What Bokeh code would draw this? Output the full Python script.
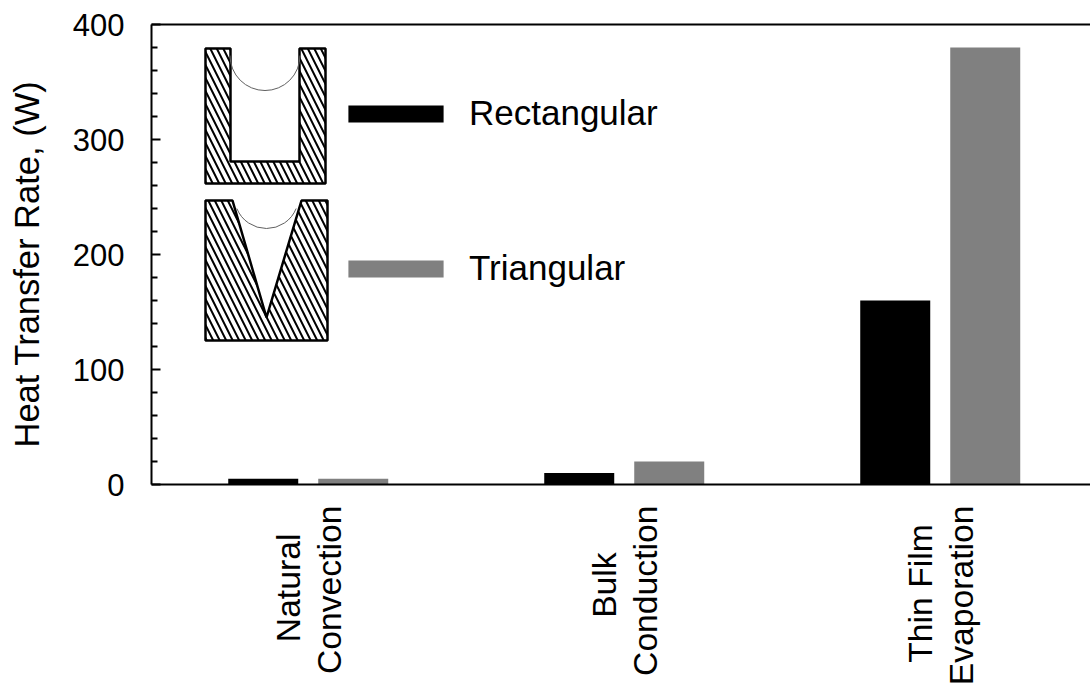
from math import pi
from bokeh.plotting import figure
from bokeh.models import Range1d, LinearAxis, FixedTicker, Legend, LegendItem
from bokeh.embed import file_html
from bokeh.resources import INLINE

categories = ["Natural\nConvection", "Bulk\nConduction", "Thin Film\nEvaporation"]
rectangular = [5, 10, 160]
triangular = [5, 20, 380]
y_ticks = [0, 100, 200, 300, 400]
y_title = "Heat Transfer Rate, (W)"

FONT = "Liberation Sans"
W, H = 1090, 688
PL, PT, PB = 151, 24, 204  # frame: x 151..1090, y 24..484

X0 = 0.5040
XS = 316.0
YS = 460 / 400

p = figure(width=W, height=H, output_backend="svg", toolbar_location=None,
           x_range=Range1d(X0, X0 + (W - PL) / XS), y_range=Range1d(0, 400),
           min_border_left=PL, min_border_right=0, min_border_top=PT, min_border_bottom=PB,
           background_fill_color="white", border_fill_color="white")
p.outline_line_color = None
p.grid.visible = False


def dx(px):
    return X0 + (px - 151) / XS


def dy(py):
    return (484 - py) / YS


xs = [1, 2, 3]
left = [x - 45 / XS for x in xs]
right = [x + 45 / XS for x in xs]
bw = 70 / XS
r1 = p.vbar(x=left, top=rectangular, width=bw, bottom=0, fill_color="black", line_color=None)
r2 = p.vbar(x=right, top=triangular, width=bw, bottom=0, fill_color="#808080", line_color=None)

# x axis: the shorter line of each label is padded so that the two lines sit centred
xa = p.xaxis[0]
xa.minor_tick_line_color = None
xa.major_tick_line_color = None
xa.axis_line_color = "black"
xa.axis_line_width = 2
pad = {1: "\u00a0" * 3, 2: "\u00a0" * 5, 3: "\u00a0" * 2}
xa.ticker = FixedTicker(ticks=xs)
over = {}
for x, c in zip(xs, categories):
    a, b = c.split("\n")
    over[x] = pad[x] + a + pad[x] + "\n" + b
xa.major_label_overrides = over
xa.major_label_orientation = pi / 2
xa.major_label_text_font = FONT
xa.major_label_text_font_size = "33.7px"
xa.major_label_text_color = "black"
xa.major_label_text_line_height = 1.07
xa.major_label_standoff = 15

# y axis
ya = p.yaxis[0]
ya.ticker = FixedTicker(ticks=y_ticks, minor_ticks=[v for v in range(0, 401, 20) if v % 100])
ya.major_label_text_font = FONT
ya.major_label_text_font_size = "31px"
ya.major_label_text_color = "black"
ya.major_label_standoff = 27
ya.axis_line_color = "black"
ya.axis_line_width = 2
ya.major_tick_in = 9
ya.major_tick_out = 0
ya.minor_tick_in = 6
ya.minor_tick_out = 0
ya.major_tick_line_color = "black"
ya.major_tick_line_width = 2
ya.minor_tick_line_color = "black"
ya.minor_tick_line_width = 2
ya.axis_label = y_title + "\u00a0\u00a0"
ya.axis_label_text_font = FONT
ya.axis_label_text_font_style = "normal"
ya.axis_label_text_font_size = "34.5px"
ya.axis_label_text_color = "black"
ya.axis_label_standoff = 24

# top rule
top = LinearAxis(axis_line_color="black", axis_line_width=2,
                 major_tick_line_color=None, minor_tick_line_color=None,
                 major_label_text_font_size="0px", major_label_text_color=None)
top.ticker = FixedTicker(ticks=[])
p.add_layout(top, "above")

# inset: rectangular channel section
rx = [205, 230, 230, 299, 299, 325, 325, 205, 205]
ry = [48, 48, 161, 161, 48, 48, 183, 183, 48]
p.patch([dx(v) for v in rx], [dy(v) for v in ry], fill_color="white",
        hatch_pattern="left_diagonal_line", hatch_color="black", hatch_scale=13, hatch_weight=2,
        line_color="black", line_width=2.5)
p.arc(x=[dx(264.5)], y=[dy(55)], radius=35, radius_units="screen",
      start_angle=pi, end_angle=0, line_color="#606060", line_width=1)

# inset: triangular channel section
tx = [205, 232, 266, 301, 327, 327, 205, 205]
ty = [200, 200, 317, 200, 200, 340, 340, 200]
p.patch([dx(v) for v in tx], [dy(v) for v in ty], fill_color="white",
        hatch_pattern="left_diagonal_line", hatch_color="black", hatch_scale=13, hatch_weight=2,
        line_color="black", line_width=2.5)
p.arc(x=[dx(266)], y=[dy(196)], radius=32, radius_units="screen",
      start_angle=pi + 0.385, end_angle=2 * pi - 0.385, line_color="#606060", line_width=1)

legend = Legend(items=[LegendItem(label="Rectangular", renderers=[r1]),
                       LegendItem(label="Triangular", renderers=[r2])],
                location=(185, 196), orientation="vertical",
                border_line_color=None, background_fill_color=None,
                glyph_width=119, glyph_height=21, spacing=115, padding=0, margin=0,
                label_text_font=FONT, label_text_font_size="35px", label_text_color="black",
                label_standoff=14, label_height=39)
p.add_layout(legend, "center")

open("out.html", "w").write(file_html(p, INLINE))
